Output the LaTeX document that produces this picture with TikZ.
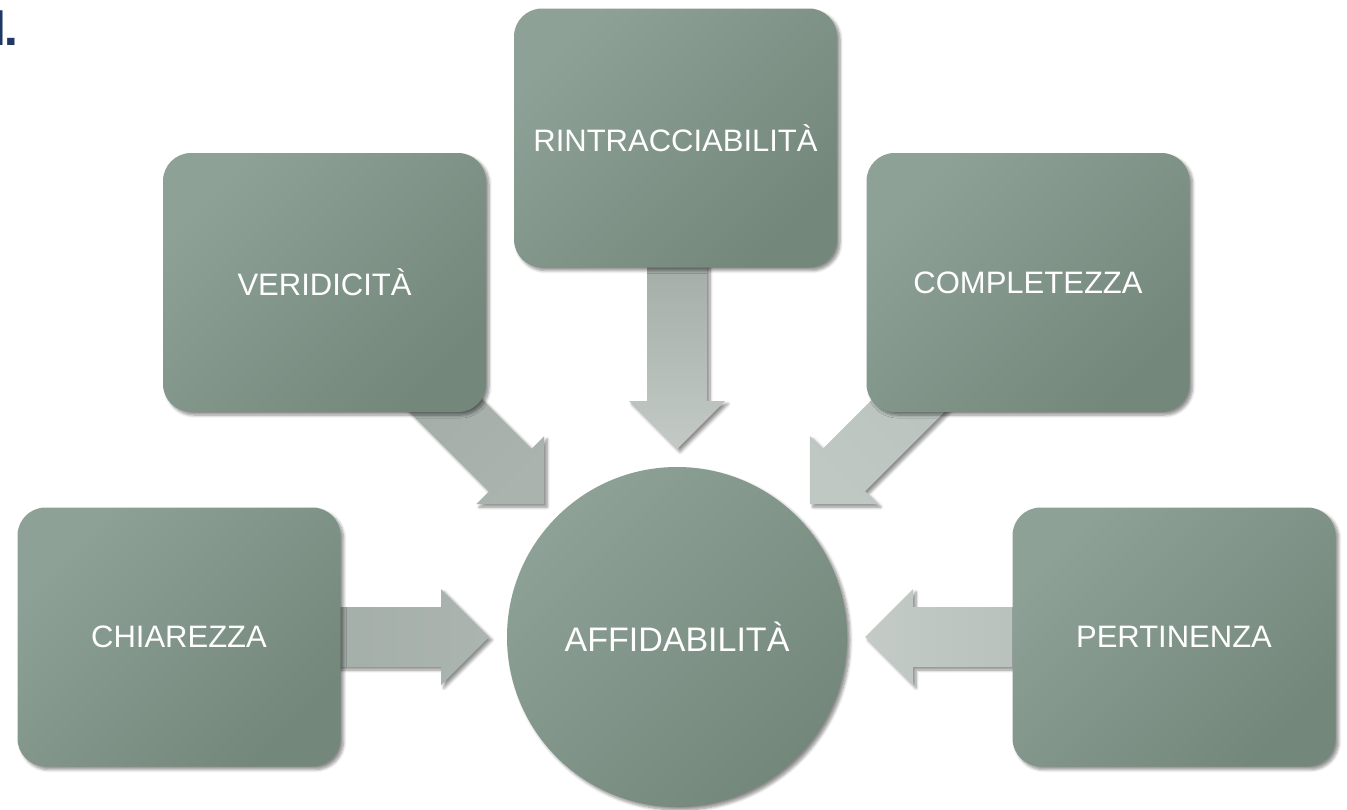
\documentclass[tikz,border=0pt]{standalone}
\usepackage{fontspec}
\setmainfont{Liberation Sans}
\newfontfamily\headfont{TeX Gyre Heros}
\usetikzlibrary{shadows.blur}
\pgfdeclarelayer{bg}
\pgfsetlayers{bg,main}

\definecolor{boxlight}{HTML}{8EA196}
\definecolor{boxdark}{HTML}{74877B}
\definecolor{navy}{HTML}{203864}
\definecolor{arwA}{HTML}{A5AFAA}
\definecolor{arwB}{HTML}{ABB4AF}
\definecolor{arwC}{HTML}{A4ADA8}
\definecolor{arwD}{HTML}{AAB3AE}
\definecolor{arwE}{HTML}{A4ADA8}
\definecolor{arwF}{HTML}{C3CAC6}
\definecolor{arwG}{HTML}{BAC3BE}
\definecolor{arwH}{HTML}{C0C8C3}
\definecolor{arwI}{HTML}{B8C1BC}
\definecolor{arwJ}{HTML}{C4CBC7}

% heading fragment "1.": ink of the stem ends at 3pt, ink of the dot starts at 7pt
\newdimen\inkA
\newdimen\inkB
\newcommand{\headfrag}{%
   \inkA=\fontcharwd\font`1\relax
   \advance\inkA by -\XeTeXglyphbounds 3 \XeTeXcharglyph`1\relax
   \kern-\inkA\kern3pt 1%
   \inkB=4pt\relax
   \advance\inkB by -\XeTeXglyphbounds 3 \XeTeXcharglyph`1\relax
   \advance\inkB by -\XeTeXglyphbounds 1 \XeTeXcharglyph`.\relax
   \kern\inkB .}

\tikzset{
  softshadow/.style={blur shadow={shadow xshift=3pt, shadow yshift=-3pt,
      shadow blur steps=6, shadow blur radius=3pt, shadow opacity=45}},
  item/.style={rounded corners=28pt, minimum width=323pt, minimum height=259pt,
      inner sep=0pt, shading=axis, top color=boxlight, bottom color=boxdark,
      shading angle=45, text=white, font=\fontsize{31}{36}\selectfont, softshadow},
  hub/.style={circle, minimum size=340pt, inner sep=0pt, shading=axis,
      top color=boxlight, bottom color=boxdark, shading angle=45, text=white,
      font=\fontsize{34}{40}\selectfont, softshadow},
  % #1 colour at the back end, #2 colour at the tip, #3 page angle of the shading
  bigarrow/.style n args={3}{shading=axis, top color=#1, bottom color=#2,
      shading angle=#3, softshadow}
}

% block arrow pointing at the origin from the left, back end at distance #1
\newcommand{\blockarrow}[1]{(-188,0) -- (-236,-48) -- (-236,-30) -- (-#1,-30)
  -- (-#1,30) -- (-236,30) -- (-236,48) -- cycle}

\begin{document}
\begin{tikzpicture}[x=1pt,y=-1pt]
\useasboundingbox (0,0) rectangle (1347,809);

% satellite boxes and the central circle
\node[item] (chi) at (179,637) {CHIAREZZA};
\node[item] (ver) at (324.5,282.5) {VERIDICITÀ};
\node[item] (rin) at (675.5,138) {RINTRACCIABILITÀ};
\node[item] (com) at (1028,282.5) {COMPLETEZZA};
\node[item] (per) at (1174,637) {PERTINENZA};
\node[hub] (aff) at (677,637) {AFFIDABILITÀ};

% fragment of the heading at the left edge
\node[anchor=base west, inner sep=0pt, text=navy,
      font=\headfont\fontsize{49}{49}\selectfont\bfseries] (num) at (0,45.5) {\headfrag};

% converging arrows, drawn behind the boxes
\begin{pgfonlayer}{bg}
  \begin{scope}[shift={(aff.center)}, rotate=0]
    \path[bigarrow={arwA}{arwB}{90}] \blockarrow{345};
  \end{scope}
  \begin{scope}[shift={(aff.center)}, rotate=-45]
    \path[bigarrow={arwC}{arwD}{45}] \blockarrow{360};
  \end{scope}
  \begin{scope}[shift={(aff.center)}, rotate=-90]
    \path[bigarrow={arwE}{arwF}{0}] \blockarrow{375};
  \end{scope}
  \begin{scope}[shift={(aff.center)}, rotate=-135]
    \path[bigarrow={arwG}{arwH}{-45}] \blockarrow{360};
  \end{scope}
  \begin{scope}[shift={(aff.center)}, rotate=180]
    \path[bigarrow={arwI}{arwJ}{-90}] \blockarrow{345};
  \end{scope}
\end{pgfonlayer}
\end{tikzpicture}
\end{document}
